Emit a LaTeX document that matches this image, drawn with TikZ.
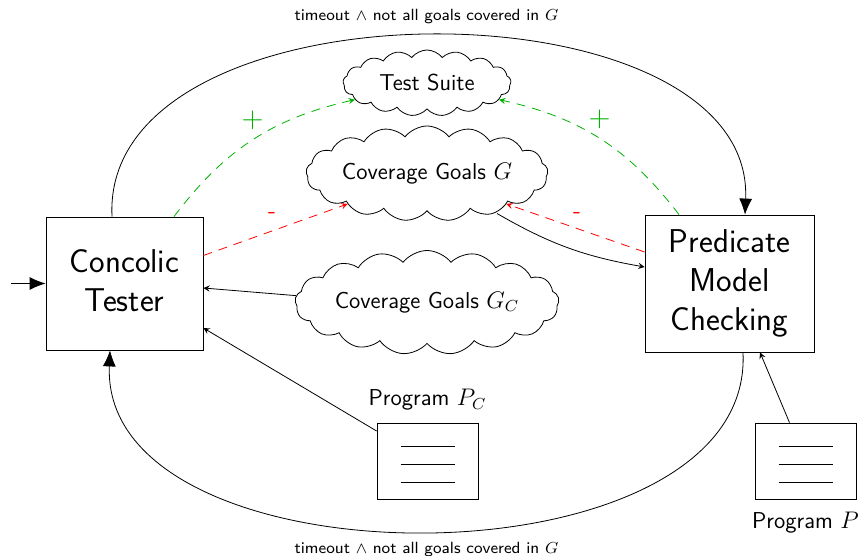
\documentclass[tikz,border=0pt]{standalone}
\usepackage{amsmath, amssymb}
\usepackage{tikz}
\usetikzlibrary{positioning, shapes.symbols, arrows.meta}
\renewcommand{\familydefault}{\sfdefault}

\begin{document}
\begin{tikzpicture}[
            x=0.5pt, y=0.5pt,
            toolbox/.style={draw, rectangle, align=center, font=\fontsize{16.5}{19.5}\selectfont},
            goalcloud/.style={draw, cloud, cloud ignores aspect, cloud puffs=17, cloud puff arc=105, inner sep=0pt, font=\fontsize{11.5}{13}\selectfont},
            progbox/.style={draw, rectangle, minimum width=50.5pt, minimum height=38pt},
            steplabel/.style={inner sep=0pt, font=\fontsize{8.1}{10}\selectfont},
            proglabel/.style={inner sep=0pt, font=\fontsize{11.5}{13}\selectfont},
            pluslabel/.style={inner sep=0pt, font=\Large, text=green!70!black},
            minuslabel/.style={inner sep=0pt, font=\large, text=red},
            thinarrow/.style={-stealth},
            bigarrow/.style={-{Latex[length=8pt,width=6.5pt]}},
            dashline/.style={thinarrow, dash pattern=on 4.5pt off 3.5pt}
        ]
            \useasboundingbox (0,0) rectangle (858,-556);

            % Boxes
            \node (concolic) [toolbox, text depth=3pt, minimum width=78.5pt, minimum height=66.5pt] at (124.5,-283.5) {Concolic\\Tester};
            \node (predicate) [toolbox, minimum width=84.5pt, minimum height=68.5pt] at (729.5,-283.5) {Predicate\\Model\\Checking};
            \coordinate (start) at (11,-283.5);

            % Clouds
            \node (suite) [goalcloud, minimum width=84pt, minimum height=33pt] at (427,-83) {Test Suite};
            \node (goals) [goalcloud, minimum width=121pt, minimum height=47.5pt] at (427,-173.5) {Coverage Goals $G$};
            \node (goalsc) [goalcloud, minimum width=132pt, minimum height=52pt] at (427,-302.5) {Coverage Goals $G_C$};

            % Programs
            \node (progc) [progbox] at (427.5,-461) {};
            \node (prog) [progbox] at (805.5,-461) {};
            \foreach \prg in {progc, prog}
                \foreach \dy in {-10.5, -1.5, 7.5}
                    \draw ([xshift=-13.5pt,yshift=\dy pt]\prg.center) -- ([xshift=13.5pt,yshift=\dy pt]\prg.center);
            \node (progclabel) [proglabel, above=6pt of progc] {Program $P_C$};
            \node (proglabel) [proglabel, below=6pt of prog] {Program $P$};

            % Labels
            \node (toplabel) [steplabel] at (426.5,-16.5) {timeout $\wedge$ not all goals covered in $G$};
            \node (bottomlabel) [steplabel] at (426.5,-549.5) {timeout $\wedge$ not all goals covered in $G$};
            \node (plusleft) [pluslabel] at (252.5,-120) {+};
            \node (plusright) [pluslabel] at (599.5,-119) {+};
            \node (minusleft) [minuslabel] at (272,-215) {-};
            \node (minusright) [minuslabel] at (577,-215) {-};

            % Connections
            \draw[bigarrow] (start) -- (concolic);
            \draw[bigarrow] ([xshift=-6.25pt]concolic.north) .. controls (100,24) and (755,24) .. ([xshift=7.75pt]predicate.north);
            \draw[bigarrow] ([xshift=6.75pt]predicate.south) .. controls (755,-591) and (100,-591) .. ([xshift=-7.25pt]concolic.south);
            \draw[dashline, green!70!black] ([xshift=24.75pt]concolic.north) to[bend left=20] (suite.193);
            \draw[dashline, green!70!black] ([xshift=-25.25pt]predicate.north) to[bend right=20] (suite.347);
            \draw[dashline, red] ([yshift=14pt]concolic.east) -- (goals.201);
            \draw[dashline, red] ([yshift=15.75pt]predicate.west) -- (goals.339);
            \draw[thinarrow] ([xshift=35pt,yshift=-20pt]goals.center) to[out=-30, in=170] ([yshift=8.25pt]predicate.west);
            \draw[thinarrow] (goalsc.177) -- ([yshift=-2.25pt]concolic.east);
            \draw[thinarrow] ([yshift=15pt]progc.west) -- ([yshift=-22.25pt]concolic.east);
            \draw[thinarrow] ([xshift=-8pt]prog.north) -- ([xshift=15.25pt]predicate.south);
        \end{tikzpicture}
\end{document}
